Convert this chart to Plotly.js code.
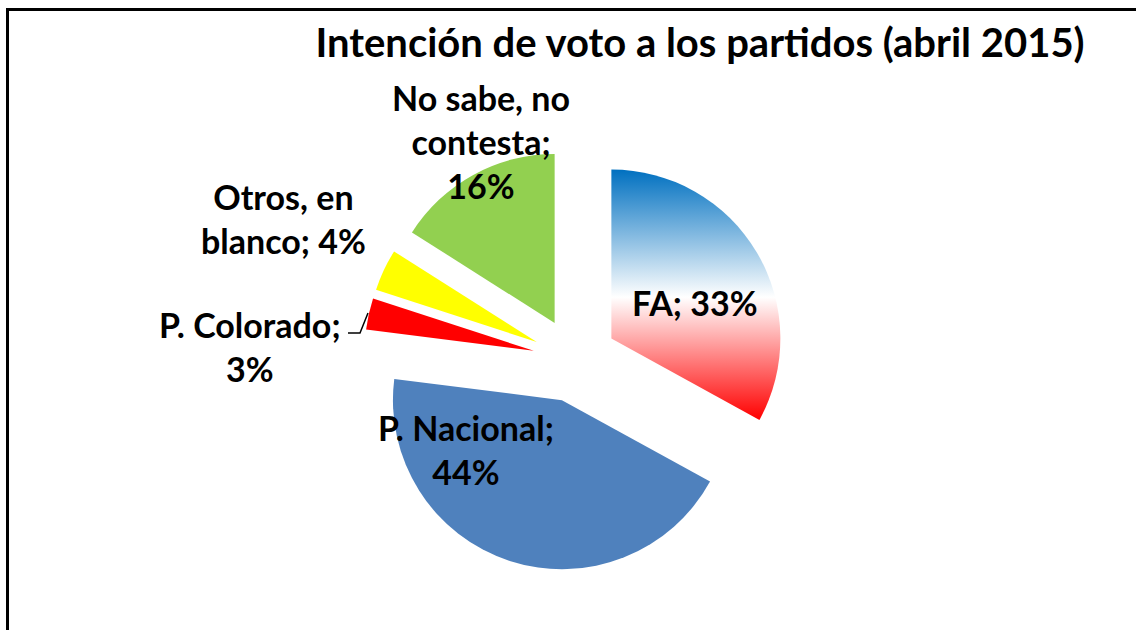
<!DOCTYPE html>
<html>
<head>
<meta charset="utf-8">
<script src="https://cdn.plot.ly/plotly-3.0.1.min.js"></script>
<style>
  html, body { margin: 0; padding: 0; background: #fff; }
  #chart { width: 1136px; height: 630px; }
</style>
</head>
<body>
<div id="chart"></div>
<script>
// ---- data ----
var labels = ['FA', 'P. Nacional', 'P. Colorado', 'Otros, en blanco', 'No sabe, no contesta'];
var values = [33, 44, 3, 4, 16];
var colors = ['#4F81BD', '#4F81BD', '#FF0000', '#FFFF00', '#92D050'];
var chartTitle = 'Intención de voto a los partidos (abril 2015)';

// ---- layout helpers ----
var W = 1136, H = 630;
function px(x) { return x / W; }
function py(y) { return 1 - y / H; }

// label placement (pixel centers) and wrap widths
var labelPos = [[695, 302], [466, 449], [250, 346], [283, 218], [481, 141]];
var wrapChars = [20, 12, 12, 10, 11];

function wrap(text, maxChars) {
  var words = text.split(' '), lines = [], cur = '';
  words.forEach(function (w) {
    if (cur === '') cur = w;
    else if ((cur + ' ' + w).length <= maxChars) cur += ' ' + w;
    else { lines.push(cur); cur = w; }
  });
  if (cur) lines.push(cur);
  return lines.join('<br>');
}

var fontFam = 'Lato, "Open Sans", sans-serif';
var fs = 34;

var annotations = labels.map(function (l, i) {
  return {
    xref: 'paper', yref: 'paper',
    x: px(labelPos[i][0]), y: py(labelPos[i][1]),
    xanchor: 'center', yanchor: 'middle',
    text: '<b>' + wrap(l + '; ' + values[i] + '%', wrapChars[i]) + '</b>',
    showarrow: false,
    font: { family: fontFam, size: fs, color: '#000' }
  };
});

var cx = 575, cy = 360, half = 211.25;

var trace = {
  type: 'pie',
  labels: labels,
  values: values,
  sort: false,
  direction: 'clockwise',
  rotation: 0,
  pull: values.map(function () { return 0.25; }),
  marker: { colors: colors, line: { width: 0 } },
  textinfo: 'none',
  hoverinfo: 'label+percent',
  showlegend: false,
  domain: { x: [px(cx - half), px(cx + half)], y: [py(cy + half), py(cy - half)] }
};

var layout = {
  width: W, height: H,
  margin: { l: 0, r: 0, t: 0, b: 0 },
  paper_bgcolor: '#fff',
  showlegend: false,
  title: {
    text: '<b>' + chartTitle + '</b>',
    x: px(700), xanchor: 'center',
    y: py(43), yanchor: 'middle',
    font: { family: fontFam, size: 40, color: '#000' }
  },
  annotations: annotations,
  shapes: [
    { type: 'rect', xref: 'paper', yref: 'paper',
      x0: px(7.5), x1: px(1150), y0: py(9.5), y1: py(650),
      line: { color: '#000', width: 3 }, fillcolor: 'rgba(0,0,0,0)' },
    { type: 'path', xref: 'paper', yref: 'paper',
      path: 'M ' + px(348) + ',' + py(333) + ' L ' + px(360) + ',' + py(333) + ' L ' + px(368) + ',' + py(313),
      line: { color: '#000', width: 1.5 } }
  ]
};

Plotly.newPlot('chart', [trace], layout, { displayModeBar: false, staticPlot: true }).then(function (gd) {
  var svg = gd.querySelector('svg.main-svg');
  var ns = 'http://www.w3.org/2000/svg';
  var defs = svg.querySelector('defs') || svg.insertBefore(document.createElementNS(ns, 'defs'), svg.firstChild);
  var grad = document.createElementNS(ns, 'linearGradient');
  grad.setAttribute('id', 'faGrad');
  grad.setAttribute('x1', '0'); grad.setAttribute('y1', '0');
  grad.setAttribute('x2', '0'); grad.setAttribute('y2', '1');
  [['0', '#0070C0'], ['0.51', '#FFFFFF'], ['1', '#FF0000']].forEach(function (s) {
    var st = document.createElementNS(ns, 'stop');
    st.setAttribute('offset', s[0]);
    st.setAttribute('stop-color', s[1]);
    grad.appendChild(st);
  });
  defs.appendChild(grad);
  var slices = gd.querySelectorAll('g.slice path.surface');
  if (slices.length) slices[0].style.fill = 'url(#faGrad)';
});
</script>
</body>
</html>
